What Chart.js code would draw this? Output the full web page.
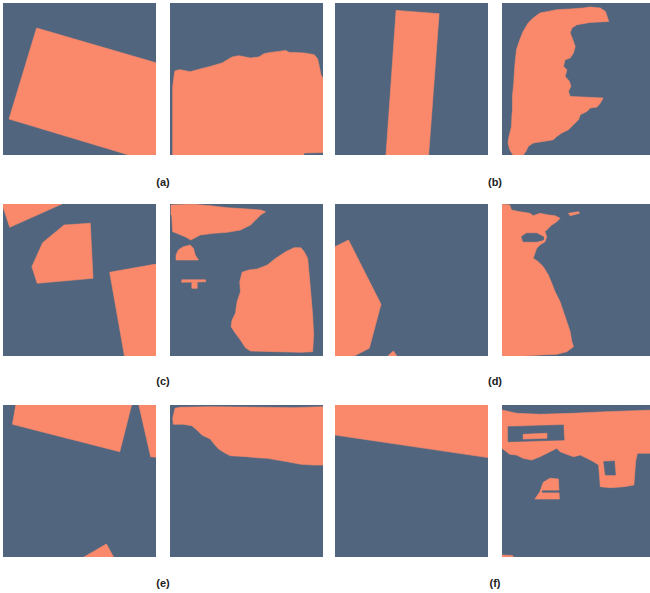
<!DOCTYPE html>
<html>
<head>
<meta charset="utf-8">
<script src="https://cdn.jsdelivr.net/npm/chart.js@4.4.1/dist/chart.umd.min.js"></script>
<style>
  html, body { margin: 0; padding: 0; background: #ffffff; overflow: hidden; }
  #wrap { position: relative; width: 650px; height: 593px; }
  .panel { position: absolute; width: 153px; height: 152px; }
  .panel canvas { display: block; }
  .cap { position: absolute; width: 60px; margin-left: -30px; text-align: center;
         font: bold 11px "Liberation Sans", Arial, sans-serif; color: #222; }
</style>
</head>
<body>
<div id="wrap"></div>
<script>
// Sub-figure captions
const captions = ['(a)', '(b)', '(c)', '(d)', '(e)', '(f)'];

// Each panel: foreground regions (salmon) and background gaps cut out of them.
// Coordinates are [x, y] in a 0..152 frame, y measured downward from the top edge.
const a1Regions = [
  [[33.4,25],[152.7,60],[152.7,152],[125,152],[6,116]]
];
const a1Gaps = [];

const a2Regions = [
  [[4.7,68.4],[6,67.4],[10,66.7],[20,68.7],[30,66],[40,63.4],[51.7,60],[58.3,56],[61.7,54],
   [68.3,52.7],[75,54],[80,55],[88.3,54],[93.3,50.7],[100,49.4],[108.3,48.4],[115,47.4],
   [118.3,49.4],[123.3,49.4],[133.3,50],[143.3,51.7],[146.7,56],[148.3,63.4],[150,71.7],
   [152.7,76.7],[152.7,149.4],[133.3,150],[132.7,152],[2.7,152],[2.7,83.4]]
];
const a2Gaps = [];

const b1Regions = [
  [[60.7,7.4],[103.4,10.7],[93,152],[50.7,152]]
];
const b1Gaps = [];

const b2Regions = [
  [[37.7,10],[46,8.4],[54.4,6.7],[67.7,6],[81,5],[87.7,4],[97.7,5],[102.7,8.4],[104.4,13.4],
   [106,18.4],[87.7,19.4],[74.4,21.7],[69.4,25],[67.7,30],[70.4,36.7],[72.7,43.4],[71,50],
   [67.7,55],[62.7,56.7],[61,63.4],[64.4,66.7],[62.7,73.4],[67,78.4],[68.4,83.4],[66,88.4],
   [67.7,93.4],[100.4,95],[97.7,100],[94.4,104],[87.7,105],[84.4,108.4],[77.7,111.7],
   [76,116.7],[71,121.7],[66,126.7],[59.4,130],[54.4,133.4],[51,136.7],[41,138.4],[31,140],
   [26,143.4],[23.7,148.4],[21,152],[11,152],[7.7,146.7],[6,140],[7,133.4],[9.4,123.4],
   [10,110],[10.4,93.4],[11.7,80],[12.7,63.4],[14.4,46.7],[17.7,36.7],[21,28.4],[26,20],[31,15]]
];
const b2Gaps = [];

const c1Regions = [
  [[0,0],[58.4,0],[6.7,23.3],[0,3]],
  [[60.7,21],[86.7,19.3],[89.4,74.3],[34,79.3],[28.7,62.7],[39.4,38.7]],
  [[106,68.3],[152.7,60],[152.7,152],[120.7,152]]
];
const c1Gaps = [];

const c2Regions = [
  [[1,1],[23.3,0.3],[40,1.7],[56.7,3.7],[76.7,5],[90,6],[95,7.7],[90,11],[85,16],[80,21],
   [70,26],[56.7,28.3],[43.3,29.3],[30,31],[20.7,36],[15,32.7],[6.7,29.3],[2.7,27.7],[1.7,11]],
  [[6.7,56],[6,51],[8.3,46],[13.3,42.7],[20,41],[23.3,44.3],[25,51],[28.3,56]],
  [[11.7,75.8],[35,75.8],[35,77.8],[11.7,78.3]],
  [[21.7,78.3],[26.7,78.3],[26.7,84.3],[21.7,84.3]],
  [[71.7,68.3],[78.3,66],[86.7,65],[96.7,61],[105,54.3],[115,47.7],[123.3,43.7],[130,43.7],
   [133.3,47.7],[136.7,54.3],[138.3,71],[140,91],[141.7,111],[142.7,131],[141.7,147.7],
   [130,148.3],[106.7,147.7],[80,147],[75,143.7],[70,136],[65,129.3],[60.7,122.7],[61.7,116],
   [65,109.3],[66.7,97.7],[70,87.7],[69.3,77.7]]
];
const c2Gaps = [];

const d1Regions = [
  [[0,42.7],[13.4,36],[45.7,100.3],[34,144.3],[19,152],[0,152]],
  [[52.4,152],[58,147],[61.4,152]]
];
const d1Gaps = [];

const d2Regions = [
  [[0,0],[7.7,1],[9.4,6],[17.7,7.7],[27.7,9.3],[31,11.7],[37.7,9.3],[46,11],[52.7,11.7],
   [57.7,14.3],[54.4,17.7],[49.4,21],[46,24.3],[42.7,27.7],[44.4,32.7],[42.7,37.7],[37.7,41],
   [34.4,44.3],[32.7,49.3],[31,54.3],[36,57.7],[41,62.7],[46,71],[49.4,79.3],[52.7,87.7],
   [57.7,97.7],[61,107.7],[64.4,117.7],[67.7,127.7],[69.4,137.7],[71,142.7],[64.4,147.7],
   [54.4,150.3],[37.7,151],[21,152],[0,152]],
  [[66,9.3],[76,7.7],[77,9.3],[67.7,11.7]]
];
const d2Gaps = [
  [[19.4,32.7],[24.4,29.3],[34.4,29.3],[41,32.7],[41,36],[34.4,37.7],[21,37.7]]
];

const e1Regions = [
  [[12.7,0],[127.7,0],[116,46.7],[9.4,19.3]],
  [[135,0],[152.7,0],[152.7,52.3],[146.7,51.7]],
  [[80,152.3],[102.7,139],[110,152.3]]
];
const e1Gaps = [];

const e2Regions = [
  [[5,3.3],[10,2.3],[40,1.7],[90,2.3],[123.3,2.7],[152.7,1.7],[152.7,60],[143.3,60],
   [130,59.3],[116.7,56.7],[106.7,55],[96.7,53.3],[86.7,52.7],[76.7,51.7],[60,50.7],[55,48.3],
   [48.3,44],[43.3,38.3],[40,34],[31.7,30],[26.7,25],[21.7,20.7],[13.3,19.3],[3.3,19.3],[2.7,13.3]]
];
const e2Gaps = [];

const f1Regions = [
  [[0,0],[152.7,0],[152.7,52.7],[0,30]]
];
const f1Gaps = [];

const f2Regions = [
  [[0,5],[14.4,8.3],[37.7,9.3],[71,8.3],[104.4,6.7],[152,5],[152,48.3],[134.4,48.3],
   [132.7,56.7],[131,80],[121,81.7],[107.7,82.7],[97.7,81.7],[96,60],[91,56.7],[84.4,53.3],
   [77.7,50],[71,51.7],[64.4,49.3],[57.7,46.7],[54.4,43.3],[47.7,46.7],[37.7,51.7],[29.4,55],
   [21,53.3],[14.4,50],[7.7,49.3],[0,43.3]],
  [[32.7,94],[37.7,86.7],[41,77.3],[47.7,73.3],[56,74],[57,94]],
  [[0,150],[10,150.5],[12,152.3],[0,152.3]]
];
const f2Gaps = [
  [[6,21.7],[61,20],[61.7,35],[6,36.7]],
  [[101,56.7],[111.7,56],[112.7,70],[102.7,70]],
  [[40,85.8],[57,85.8],[57,87.3],[40,87.3]]
];
const f2Inner = [
  [[21,29.3],[44.4,28.3],[44.4,33.3],[21,34]]
];

// Grid placement: columns and rows of the 4 x 3 panel layout
const colLeft = [3, 170, 335, 502];
const rowTop = [3, 204, 405];

const panels = [
  [a1Regions, a1Gaps, []], [a2Regions, a2Gaps, []], [b1Regions, b1Gaps, []], [b2Regions, b2Gaps, []],
  [c1Regions, c1Gaps, []], [c2Regions, c2Gaps, []], [d1Regions, d1Gaps, []], [d2Regions, d2Gaps, []],
  [e1Regions, e1Gaps, []], [e2Regions, e2Gaps, []], [f1Regions, f1Gaps, []], [f2Regions, f2Gaps, f2Inner]
];

const SALMON = '#fa896c';
const SLATE = '#51667e';

const panelBackground = {
  id: 'panelBackground',
  beforeDraw(chart) {
    const { ctx, chartArea: a } = chart;
    ctx.save();
    ctx.fillStyle = SLATE;
    ctx.fillRect(a.left, a.top, a.right - a.left, a.bottom - a.top);
    ctx.restore();
  }
};

function polygonDataset(pts, color, order) {
  const data = pts.map(([x, y]) => ({ x, y }));
  data.push({ x: pts[0][0], y: pts[0][1] });
  return {
    data,
    showLine: true,
    fill: 'shape',
    backgroundColor: color,
    borderColor: color,
    borderWidth: 0.6,
    pointRadius: 0,
    pointHoverRadius: 0,
    tension: 0,
    order
  };
}

const wrap = document.getElementById('wrap');

panels.forEach(([regions, gaps, inner], i) => {
  const div = document.createElement('div');
  div.className = 'panel';
  div.style.left = colLeft[i % 4] + 'px';
  div.style.top = rowTop[Math.floor(i / 4)] + 'px';
  const canvas = document.createElement('canvas');
  canvas.width = 153;
  canvas.height = 152;
  div.appendChild(canvas);
  wrap.appendChild(div);

  const datasets = [
    ...regions.map(p => polygonDataset(p, SALMON, 3)),
    ...gaps.map(p => polygonDataset(p, SLATE, 2)),
    ...inner.map(p => polygonDataset(p, SALMON, 1))
  ];

  new Chart(canvas, {
    type: 'scatter',
    data: { datasets },
    options: {
      responsive: false,
      animation: false,
      events: [],
      layout: { padding: 0 },
      plugins: { legend: { display: false }, tooltip: { enabled: false } },
      scales: {
        x: { type: 'linear', min: 0, max: 152, display: false },
        y: { type: 'linear', min: 0, max: 152, reverse: true, display: false }
      }
    },
    plugins: [panelBackground]
  });
});

// Captions centred under each pair of panels
const capX = [163, 495];
const capY = [176, 375, 577];
captions.forEach((t, i) => {
  const d = document.createElement('div');
  d.className = 'cap';
  d.textContent = t;
  d.style.left = capX[i % 2] + 'px';
  d.style.top = capY[Math.floor(i / 2)] + 'px';
  wrap.appendChild(d);
});
</script>
</body>
</html>
